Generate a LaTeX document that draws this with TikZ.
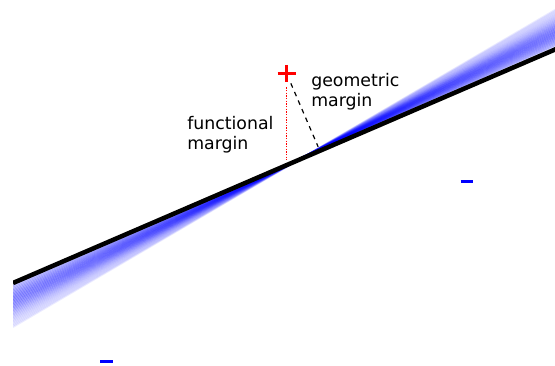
\documentclass[tikz,border=0pt]{standalone}
\usepackage{fontspec}
\setmainfont{DejaVu Sans}
\usetikzlibrary{calc}
\definecolor{mlblue}{RGB}{0,0,255}
\definecolor{mlred}{RGB}{255,0,0}

\begin{document}
\begin{tikzpicture}[
  x=0.75pt,y=-0.75pt,
  every node/.style={font=\fontsize{13}{15.4}\selectfont},
  marginlabel/.style={align=left,inner sep=0pt,anchor=base west},
  fanline/.style={mlblue,line width=1.4pt},
  boundary/.style={black,line width=3.4pt},
  markbar/.style={line width=2.25pt},
]
  \useasboundingbox (0,0) rectangle (555,366);

  % Points
  \coordinate (lft) at (13,283);
  \coordinate (rgt) at (555,49.5);
  \coordinate (pos) at (286.5,73.3);
  \coordinate (fvert) at (286.5,165);
  \coordinate (negA) at (467,181.3);
  \coordinate (negB) at (106.3,361.7);

  % Fan of candidate boundaries
  \begin{scope}
    \clip (13,0) rectangle (560,366);
    \foreach \i in {0,...,30} {
      \pgfmathsetmacro\t{\i/30}
      \pgfmathsetmacro\op{0.07+0.26*exp(-((\t-0.35)/0.35)^2)}
      \draw[fanline,opacity=\op] (13,{285+42*\t}) -- (560,{48-37*\t-4});
    }
    \draw[boundary] (lft) -- ($(lft)!1.02!(rgt)$);
  \end{scope}

  % Margins
  \draw[mlred,line width=0.75pt,dash pattern=on 1pt off 1pt,
        shorten <=10.5pt,shorten >=3.8pt] (pos) -- (fvert);
  \draw[black,line width=0.9pt,dash pattern=on 3.5pt off 3.5pt,
        shorten <=8.2pt,shorten >=3.2pt] (pos) -- ($(lft)!(pos)!(rgt)$);

  % Labels
  \node[marginlabel] (geo) at (311,107) {geometric\\margin};
  \node[marginlabel] (func) at (187,150) {functional\\margin};

  % Markers
  \draw[mlred,markbar] ($(pos)+(-9,0)$) -- ($(pos)+(9,0)$)
                       ($(pos)+(0,-8.5)$) -- ($(pos)+(0,8.5)$);
  \draw[mlblue,markbar] ($(negA)+(-6.3,0)$) -- ($(negA)+(6.3,0)$);
  \draw[mlblue,markbar] ($(negB)+(-6.3,0)$) -- ($(negB)+(6.3,0)$);
\end{tikzpicture}
\end{document}
